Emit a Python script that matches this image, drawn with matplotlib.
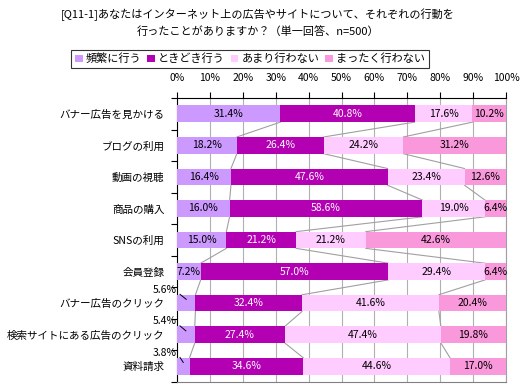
import numpy as np
import matplotlib
matplotlib.use("Agg")
import matplotlib.pyplot as plt
from matplotlib.patches import Patch

plt.rcParams['font.family'] = ['Noto Sans CJK JP', 'DejaVu Sans']

# データ
categories = ["バナー広告を見かける", "ブログの利用", "動画の視聴", "商品の購入", "SNSの利用",
              "会員登録", "バナー広告のクリック", "検索サイトにある広告のクリック", "資料請求"]
series_names = ["頻繁に行う", "ときどき行う", "あまり行わない", "まったく行わない"]
hinpan = [31.4, 18.2, 16.4, 16.0, 15.0, 7.2, 5.6, 5.4, 3.8]
tokidoki = [40.8, 26.4, 47.6, 58.6, 21.2, 57.0, 32.4, 27.4, 34.6]
amari = [17.6, 24.2, 23.4, 19.0, 21.2, 29.4, 41.6, 47.4, 44.6]
mattaku = [10.2, 31.2, 12.6, 6.4, 42.6, 6.4, 20.4, 19.8, 17.0]
x_ticks = [0, 10, 20, 30, 40, 50, 60, 70, 80, 90, 100]

colors = ['#CC99FF', '#B200B2', '#FFCCFF', '#FA98DC']
text_colors = ['black', 'white', 'black', 'black']

fig = plt.figure(figsize=(5.24, 3.9), dpi=100)
ax = fig.add_axes([177 / 524, 8 / 390, 329 / 524, 284 / 390])

data = np.array([hinpan, tokidoki, amari, mattaku])
y = np.arange(len(categories))
bar_h = 0.53
lefts = np.zeros(len(categories))

for k in range(len(series_names)):
    ax.barh(y, data[k], left=lefts, height=bar_h, color=colors[k], zorder=3)
    for i in range(len(categories)):
        v = data[k][i]
        if k == 0 and v < 6:
            # 小さい値はバーの外にラベル
            ax.text(-3.6, i - 0.42, f"{v:.1f}%", ha='center', va='center',
                    fontsize=7.5, clip_on=False)
            ax.plot([0.9, v / 2], [i - 0.28, i - 0.12], color='black', lw=0.7,
                    zorder=4, clip_on=False)
        else:
            ax.text(lefts[i] + v / 2, i, f"{v:.1f}%", ha='center', va='center',
                    fontsize=7.5, color=text_colors[k], zorder=5)
    lefts = lefts + data[k]

# 区分線（系列線）
cum = np.cumsum(data, axis=0)
for k in range(3):
    for i in range(len(categories) - 1):
        ax.plot([cum[k][i], cum[k][i + 1]], [i + bar_h / 2, i + 1 - bar_h / 2],
                color='#A0A0A0', lw=0.8, zorder=2)

ax.set_xlim(0, 100)
ax.set_ylim(len(categories) - 0.5, -0.5)
ax.xaxis.tick_top()
ax.set_xticks(x_ticks)
ax.set_xticklabels([f"{t}%" for t in x_ticks], fontsize=7.5)
ax.tick_params(axis='x', direction='out', length=4, width=0.8, pad=7)
ax.set_yticks(np.arange(len(categories) + 1) - 0.5, minor=False)
ax.set_yticklabels([])
ax.set_yticks(y, minor=True)
ax.set_yticklabels(categories, minor=True, fontsize=7.6)
ax.tick_params(axis='y', which='major', direction='out', length=4, width=0.8)
ax.tick_params(axis='y', which='minor', length=0, pad=9)

ax.grid(axis='x', color='#B0B0B0', lw=0.8, zorder=0)
ax.set_axisbelow(True)
ax.spines['left'].set_color('black')
ax.spines['top'].set_color('black')
ax.spines['right'].set_color('#A0A0A0')
ax.spines['bottom'].set_color('#808080')

fig.text(258 / 524, 1 - 15 / 390, "[Q11-1]あなたはインターネット上の広告やサイトについて、それぞれの行動を",
         ha='center', va='center', fontsize=8)
fig.text(258 / 524, 1 - 31 / 390, "行ったことがありますか？（単一回答、n=500）",
         ha='center', va='center', fontsize=8)

handles = [Patch(facecolor=c, edgecolor='none') for c in colors]
leg = fig.legend(handles, series_names, loc='center', bbox_to_anchor=(250 / 524, 1 - 59 / 390),
                 ncol=4, fontsize=8, frameon=True, fancybox=False, handlelength=0.7,
                 handleheight=0.7, handletextpad=0.3, columnspacing=0.5, borderpad=0.3,
                 borderaxespad=0)
leg.get_frame().set_edgecolor('black')
leg.get_frame().set_linewidth(0.8)

fig.savefig("out.png", dpi=100)
